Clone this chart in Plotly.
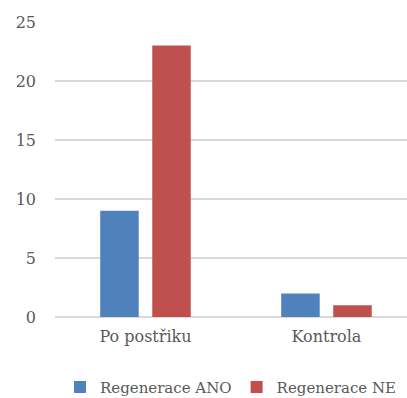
import plotly.graph_objects as go

categories = ["Po postřiku", "Kontrola"]
series_names = ["Regenerace ANO", "Regenerace NE"]
regenerace_ano = [9, 2]
regenerace_ne = [23, 1]
y_ticks = [0, 5, 10, 15, 20, 25]

colors = ["#4f81bd", "#c0504d"]
font_family = "DejaVu Serif"
text_color = "#595959"

fig = go.Figure()
for name, vals, col in zip(series_names, [regenerace_ano, regenerace_ne], colors):
    fig.add_trace(go.Bar(
        x=categories, y=vals, name=name,
        marker=dict(color=col, line=dict(width=0)),
    ))

fig.update_layout(
    width=407, height=398,
    margin=dict(l=55, r=0, t=22, b=81, autoexpand=False),
    paper_bgcolor="white", plot_bgcolor="white",
    barmode="group", bargap=0.425, bargroupgap=0.26,
    font=dict(family=font_family, size=16, color=text_color),
    showlegend=True,
    legend=dict(orientation="h", x=0.5, xanchor="center",
                y=0.027, yanchor="middle", yref="container",
                font=dict(family=font_family, size=15, color=text_color),
                itemwidth=30, tracegroupgap=0, traceorder="normal"),
    xaxis=dict(type="category", range=[-0.5, 1.445], showgrid=False,
               showline=False, ticks="", ticklabelstandoff=8,
               tickfont=dict(family=font_family, size=16)),
    yaxis=dict(range=[0, 25], tickvals=y_ticks, showgrid=True,
               gridcolor="#d9d9d9", gridwidth=1.5, zeroline=True,
               zerolinecolor="#d9d9d9", zerolinewidth=1.5,
               showline=False, ticks="", ticklabelstandoff=18,
               tickfont=dict(family=font_family, size=16)),
)

fig.write_html("out.html")
